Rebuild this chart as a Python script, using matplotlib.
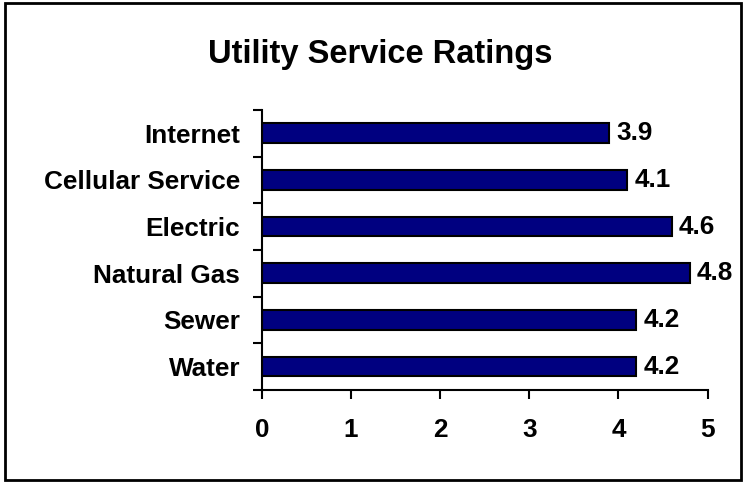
import matplotlib.pyplot as plt
from matplotlib.patches import Rectangle

# data (bottom to top)
services = ['Water', 'Sewer', 'Natural Gas', 'Electric', 'Cellular Service', 'Internet']
ratings = [4.2, 4.2, 4.8, 4.6, 4.1, 3.9]

plt.rcParams['font.family'] = ['Liberation Sans', 'DejaVu Sans']
plt.rcParams['font.weight'] = 'bold'

fig = plt.figure(figsize=(7.44, 4.83), dpi=100)
ax = fig.add_axes([0.352, 0.1925, 0.599, 0.58])

ypos = range(len(services))
ax.barh(ypos, ratings, height=0.42, color='#000080', edgecolor='black', linewidth=1.5)

for y, v in zip(ypos, ratings):
    ax.annotate(f'{v:.1f}', (v, y), xytext=(5, 0), textcoords='offset points',
                va='center', ha='left', fontsize=18.8, fontweight='bold')

ax.set_xlim(0, 5)
ax.set_ylim(-0.5, len(services) - 0.5)
ax.set_xticks(range(6))
ax.set_yticks(ypos)
ax.set_yticklabels(services)
ax.set_yticks([i - 0.5 for i in range(len(services) + 1)], minor=True)

ax.tick_params(axis='y', which='major', length=0, pad=15.5, labelsize=18.8)
ax.tick_params(axis='y', which='minor', length=6.5, width=1.5, direction='out')
ax.tick_params(axis='x', length=6.5, width=1.5, direction='out', pad=14, labelsize=18.8)

ax.spines['top'].set_visible(False)
ax.spines['right'].set_visible(False)
for s in ['left', 'bottom']:
    ax.spines[s].set_linewidth(1.5)

fig.text(0.511, 0.887, 'Utility Service Ratings', ha='center', va='center',
         fontsize=23.5, fontweight='bold')

# outer frame
fig.patches.append(Rectangle((5 / 744, 3 / 483), 736 / 744, 477 / 483,
                             transform=fig.transFigure, fill=False,
                             edgecolor='black', linewidth=2))

fig.savefig('out.png', dpi=100)
